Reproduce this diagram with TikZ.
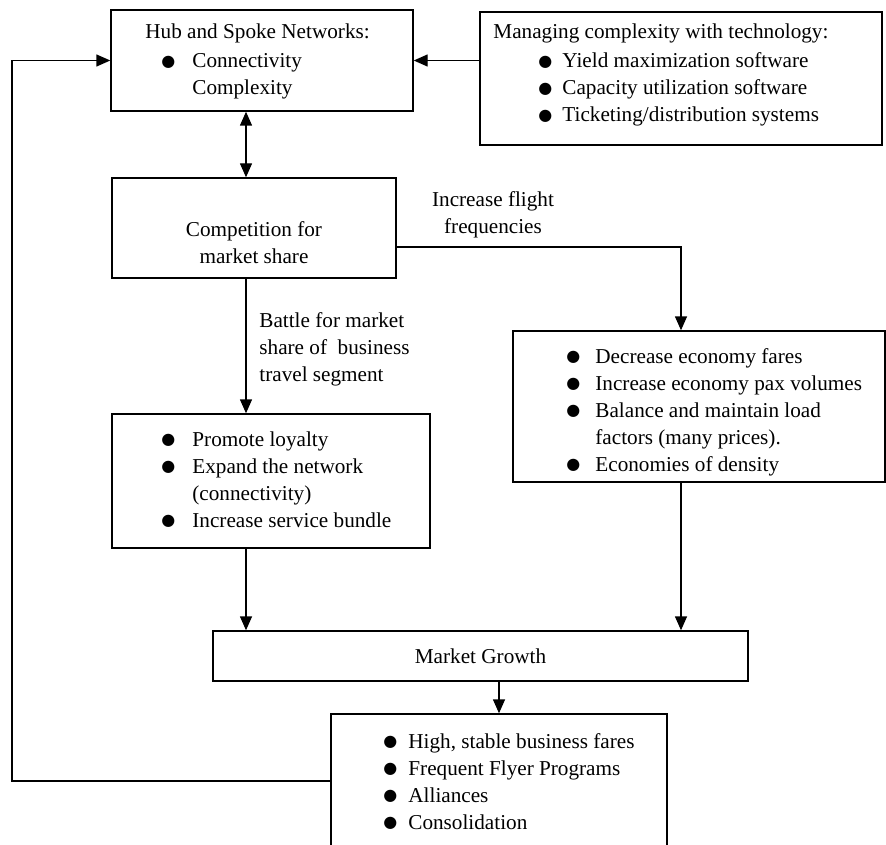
\documentclass[tikz,border=0pt]{standalone}
\usepackage{fontspec}
\setmainfont{Liberation Serif}
\newfontfamily\symfont{DejaVu Sans}
\usetikzlibrary{arrows.meta}
\newcommand\dotb{\raisebox{0.7pt}{\symfont\fontsize{8}{8}\selectfont ●}}
\tikzset{
  blk/.style={draw, line width=0.7pt, inner sep=0pt, align=center,
    font=\fontsize{10.6}{13.5}\selectfont},
  txt/.style={anchor=base west, inner sep=0pt,
    font=\fontsize{10.6}{13.5}\selectfont},
  lbl/.style={inner sep=0pt, font=\fontsize{10.6}{13.5}\selectfont},
  link/.style={line width=0.7pt},
  arr/.style={link, -{Triangle[length=7pt,width=6pt]}}
}

\begin{document}
\begin{tikzpicture}[x=0.5pt, y=-0.5pt]
	\useasboundingbox (0,0) rectangle (886,844);
	% boxes
	\node[blk, minimum width=151pt, minimum height=50.5pt] (hub) at (262,60.5) {};
	\node[txt] (hubhead) at (145,39) {Hub and Spoke Networks:};
	\node[txt] (hublist) at (161,68) {\begin{tabular}[t]{@{}p{15.5pt}@{}l@{}}
	    \dotb & Connectivity\\
	          & Complexity
	  \end{tabular}};
	\node[blk, minimum width=201pt, minimum height=66.5pt] (tech) at (681,78.5) {};
	\node[txt] (techhead) at (493,39) {Managing complexity with technology:};
	\node[txt] (techlist) at (538,68) {\begin{tabular}[t]{@{}p{12pt}@{}l@{}}
	    \dotb & Yield maximization software\\
	    \dotb & Capacity utilization software\\
	    \dotb & Ticketing/distribution systems
	  \end{tabular}};
	\node[blk, minimum width=142pt, minimum height=50pt] (comp) at (254,228) {};
	\node[lbl, align=center] (comptxt) at (254,243) {Competition for\\market share};
	\node[blk, minimum width=159pt, minimum height=67pt] (prom) at (271,481) {};
	\node[txt] (promlist) at (161,446) {\begin{tabular}[t]{@{}p{15.5pt}@{}l@{}}
	    \dotb & Promote loyalty\\
	    \dotb & Expand the network\\
	          & (connectivity)\\
	    \dotb & Increase service bundle
	  \end{tabular}};
	\node[blk, minimum width=186pt, minimum height=75.5pt] (dec) at (699,406.5) {};
	\node[txt] (declist) at (566,363) {\begin{tabular}[t]{@{}p{14.5pt}@{}l@{}}
	    \dotb & Decrease economy fares\\
	    \dotb & Increase economy pax volumes\\
	    \dotb & Balance and maintain load\\
	          & factors (many prices).\\
	    \dotb & Economies of density
	  \end{tabular}};
	\node[blk, minimum width=267.5pt, minimum height=25pt] (grow) at (480.5,656) {Market Growth};
	\node[blk, minimum width=168pt, minimum height=83pt] (cons) at (499,797) {};
	\node[txt] (conslist) at (383,748) {\begin{tabular}[t]{@{}p{12.5pt}@{}l@{}}
	    \dotb & High, stable business fares\\
	    \dotb & Frequent Flyer Programs\\
	    \dotb & Alliances\\
	    \dotb & Consolidation
	  \end{tabular}};
	% labels on the links
	\node[lbl, align=center] (freq) at (493,215) {Increase flight\\frequencies};
	\node[lbl, align=left, anchor=west] (battle) at (259,349)
	  {Battle for market\\share of\ \ business\\travel segment};
	% links
	\coordinate (lx) at (246,0);
	\coordinate (fork) at (681,247);
	\coordinate (loop) at (12,781);
	\draw[arr] (hub.east -| tech.west) -- (hub.east);
	\draw[link, {Triangle[length=7pt,width=6pt]}-{Triangle[length=7pt,width=6pt]}]
	  (hub.south -| lx) -- (comp.north -| lx);
	\draw[arr] (comp.east |- fork) -| (fork |- dec.north);
	\draw[arr] (comp.south -| lx) -- (prom.north -| lx);
	\draw[arr] (prom.south -| lx) -- (grow.north -| lx);
	\draw[arr] (fork |- dec.south) -- (fork |- grow.north);
	\draw[arr] (grow.south -| cons.north) -- (cons.north);
	\draw[arr] (loop -| cons.west) -- (loop) |- (hub.west);
\end{tikzpicture}
\end{document}
